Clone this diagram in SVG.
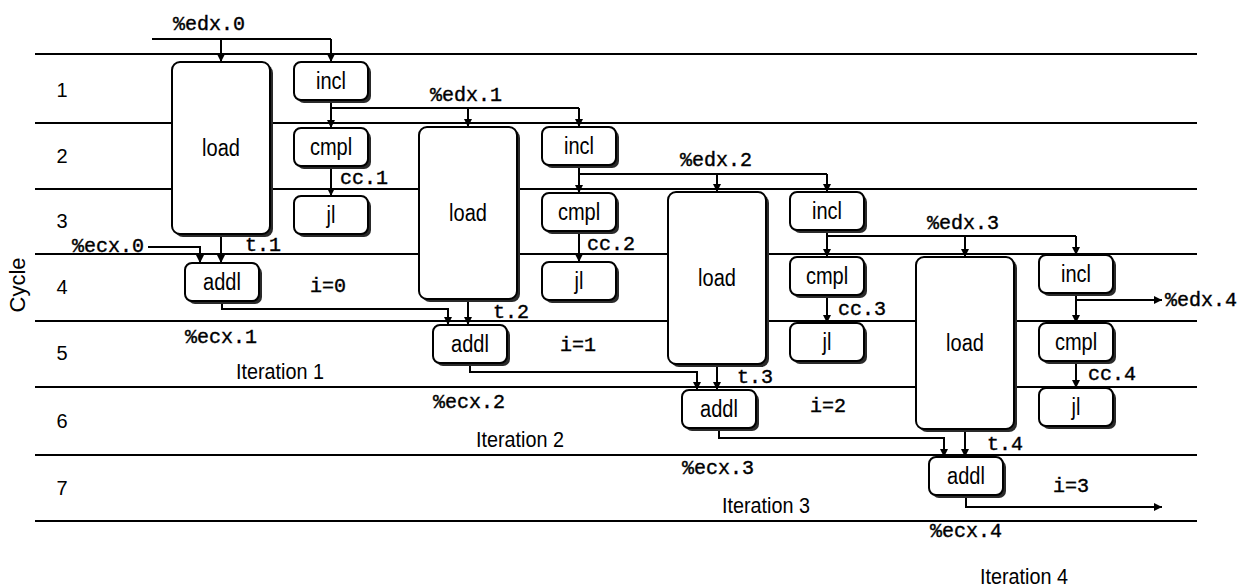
<svg xmlns="http://www.w3.org/2000/svg" width="1243" height="587" viewBox="0 0 1243 587">
<style>
.bg{fill:#fff}
.cyc{stroke:#000;stroke-width:2;fill:none}
.sh{fill:#2a2a2a}
.box{fill:#fff;stroke:#000;stroke-width:2}
.op{font-family:"Liberation Sans",Arial,sans-serif;font-size:23px;text-anchor:middle;fill:#000}
.num{font-family:"Liberation Sans",Arial,sans-serif;font-size:20px;text-anchor:middle;fill:#000}
.it{font-family:"Liberation Sans",Arial,sans-serif;font-size:22px;fill:#000}
.mono{font-family:"Liberation Mono","Courier New",monospace;font-size:20px;fill:#000;stroke:#000;stroke-width:0.4}
.edge{stroke:#000;stroke-width:2;fill:none}
.arr{stroke:#000;stroke-width:2;fill:none;marker-end:url(#ah)}
</style>
<defs>
<marker id="ah" markerUnits="userSpaceOnUse" markerWidth="9" markerHeight="8" refX="8" refY="4" orient="auto">
<path d="M0,0 L8,4 L0,8 z" fill="#000"/>
</marker>
</defs>
<rect class="bg" x="0" y="0" width="1243" height="587"/>

<g id="cycles">
<path class="cyc" d="M35,54 H1197 M35,123 H1197 M35,189 H1197 M35,254 H1197 M35,321 H1197 M35,387 H1197 M35,455 H1197 M35,521 H1197"/>
<text class="num" x="62" y="97">1</text>
<text class="num" x="62" y="163">2</text>
<text class="num" x="62" y="228">3</text>
<text class="num" x="62" y="294">4</text>
<text class="num" x="62" y="360">5</text>
<text class="num" x="62" y="428">6</text>
<text class="num" x="62" y="495">7</text>
<text class="it" transform="translate(25,285) rotate(-90)" text-anchor="middle">Cycle</text>
</g>

<g id="connectors">
<path class="edge" d="M152,39 H331"/>
<path class="arr" d="M331,39 V62"/>
<path class="arr" d="M221,39 V62"/>
<path class="arr" d="M331,100 V128"/>
<path class="edge" d="M331,108 H579"/>
<path class="arr" d="M579,108 V127"/>
<path class="arr" d="M468,108 V127"/>
<path class="arr" d="M331,166 V196"/>

<path class="arr" d="M579,165 V193"/>
<path class="edge" d="M579,174 H827"/>
<path class="arr" d="M827,174 V192"/>
<path class="arr" d="M717,174 V192"/>
<path class="arr" d="M579,231 V262"/>

<path class="arr" d="M827,230 V257"/>
<path class="edge" d="M827,236 H1076"/>
<path class="arr" d="M1076,236 V255"/>
<path class="arr" d="M965,236 V257"/>
<path class="arr" d="M827,295 V323"/>

<path class="arr" d="M1076,293 V323"/>
<path class="arr" d="M1076,300 H1162"/>
<path class="arr" d="M1076,361 V388"/>

<path class="arr" d="M148,247 H200 V263"/>
<path class="arr" d="M221,234 V263"/>
<path class="arr" d="M222,301 V309 H448 V325"/>
<path class="arr" d="M468,299 V325"/>
<path class="arr" d="M470,363 V372 H697 V390"/>
<path class="arr" d="M717,364 V390"/>
<path class="arr" d="M719,428 V438 H944 V457"/>
<path class="arr" d="M965,429 V457"/>
<path class="arr" d="M966,495 V507 H1162"/>

<text class="mono" x="173" y="30">%edx.0</text>
<text class="mono" x="430" y="101">%edx.1</text>
<text class="mono" x="680" y="166">%edx.2</text>
<text class="mono" x="927" y="229">%edx.3</text>
<text class="mono" x="1165" y="306">%edx.4</text>
<text class="mono" x="340" y="184">cc.1</text>
<text class="mono" x="587" y="250">cc.2</text>
<text class="mono" x="838" y="315">cc.3</text>
<text class="mono" x="1088" y="380">cc.4</text>
<text class="mono" x="72" y="252">%ecx.0</text>
<text class="mono" x="245" y="251">t.1</text>
<text class="mono" x="493" y="318">t.2</text>
<text class="mono" x="737" y="383">t.3</text>
<text class="mono" x="987" y="450">t.4</text>
<text class="mono" x="310" y="292">i=0</text>
<text class="mono" x="560" y="351">i=1</text>
<text class="mono" x="810" y="412">i=2</text>
<text class="mono" x="1053" y="492">i=3</text>
<text class="mono" x="185" y="343">%ecx.1</text>
<text class="mono" x="433" y="408">%ecx.2</text>
<text class="mono" x="682" y="474">%ecx.3</text>
<text class="mono" x="930" y="537">%ecx.4</text>
</g>

<g id="load1"><rect class="sh" x="175" y="65" width="98" height="172" rx="8"/><rect class="box" x="172" y="62" width="98" height="172" rx="8"/><text class="op" transform="translate(221,156) scale(0.87,1)">load</text></g>
<g id="incl1"><rect class="sh" x="297" y="65" width="74" height="38" rx="7"/><rect class="box" x="294" y="62" width="74" height="38" rx="7"/><text class="op" transform="translate(331,89) scale(0.87,1)">incl</text></g>
<g id="cmpl1"><rect class="sh" x="297" y="131" width="74" height="38" rx="7"/><rect class="box" x="294" y="128" width="74" height="38" rx="7"/><text class="op" transform="translate(331,155) scale(0.87,1)">cmpl</text></g>
<g id="jl1"><rect class="sh" x="297" y="199" width="74" height="38" rx="7"/><rect class="box" x="294" y="196" width="74" height="38" rx="7"/><text class="op" transform="translate(331,223) scale(0.87,1)">jl</text></g>
<g id="addl1"><rect class="sh" x="188" y="266" width="74" height="38" rx="7"/><rect class="box" x="185" y="263" width="74" height="38" rx="7"/><text class="op" transform="translate(222,290) scale(0.87,1)">addl</text></g>

<g id="load2"><rect class="sh" x="422" y="130" width="98" height="172" rx="8"/><rect class="box" x="419" y="127" width="98" height="172" rx="8"/><text class="op" transform="translate(468,221) scale(0.87,1)">load</text></g>
<g id="incl2"><rect class="sh" x="545" y="130" width="74" height="38" rx="7"/><rect class="box" x="542" y="127" width="74" height="38" rx="7"/><text class="op" transform="translate(579,154) scale(0.87,1)">incl</text></g>
<g id="cmpl2"><rect class="sh" x="545" y="196" width="74" height="38" rx="7"/><rect class="box" x="542" y="193" width="74" height="38" rx="7"/><text class="op" transform="translate(579,220) scale(0.87,1)">cmpl</text></g>
<g id="jl2"><rect class="sh" x="545" y="265" width="74" height="38" rx="7"/><rect class="box" x="542" y="262" width="74" height="38" rx="7"/><text class="op" transform="translate(579,289) scale(0.87,1)">jl</text></g>
<g id="addl2"><rect class="sh" x="436" y="328" width="74" height="38" rx="7"/><rect class="box" x="433" y="325" width="74" height="38" rx="7"/><text class="op" transform="translate(470,352) scale(0.87,1)">addl</text></g>

<g id="load3"><rect class="sh" x="671" y="195" width="98" height="172" rx="8"/><rect class="box" x="668" y="192" width="98" height="172" rx="8"/><text class="op" transform="translate(717,286) scale(0.87,1)">load</text></g>
<g id="incl3"><rect class="sh" x="793" y="195" width="74" height="38" rx="7"/><rect class="box" x="790" y="192" width="74" height="38" rx="7"/><text class="op" transform="translate(827,219) scale(0.87,1)">incl</text></g>
<g id="cmpl3"><rect class="sh" x="793" y="260" width="74" height="38" rx="7"/><rect class="box" x="790" y="257" width="74" height="38" rx="7"/><text class="op" transform="translate(827,284) scale(0.87,1)">cmpl</text></g>
<g id="jl3"><rect class="sh" x="793" y="326" width="74" height="38" rx="7"/><rect class="box" x="790" y="323" width="74" height="38" rx="7"/><text class="op" transform="translate(827,350) scale(0.87,1)">jl</text></g>
<g id="addl3"><rect class="sh" x="685" y="393" width="74" height="38" rx="7"/><rect class="box" x="682" y="390" width="74" height="38" rx="7"/><text class="op" transform="translate(719,417) scale(0.87,1)">addl</text></g>

<g id="load4"><rect class="sh" x="919" y="260" width="98" height="172" rx="8"/><rect class="box" x="916" y="257" width="98" height="172" rx="8"/><text class="op" transform="translate(965,351) scale(0.87,1)">load</text></g>
<g id="incl4"><rect class="sh" x="1042" y="258" width="74" height="38" rx="7"/><rect class="box" x="1039" y="255" width="74" height="38" rx="7"/><text class="op" transform="translate(1076,282) scale(0.87,1)">incl</text></g>
<g id="cmpl4"><rect class="sh" x="1042" y="326" width="74" height="38" rx="7"/><rect class="box" x="1039" y="323" width="74" height="38" rx="7"/><text class="op" transform="translate(1076,350) scale(0.87,1)">cmpl</text></g>
<g id="jl4"><rect class="sh" x="1042" y="391" width="74" height="38" rx="7"/><rect class="box" x="1039" y="388" width="74" height="38" rx="7"/><text class="op" transform="translate(1076,415) scale(0.87,1)">jl</text></g>
<g id="addl4"><rect class="sh" x="932" y="460" width="74" height="38" rx="7"/><rect class="box" x="929" y="457" width="74" height="38" rx="7"/><text class="op" transform="translate(966,484) scale(0.87,1)">addl</text></g>

<g id="iterations">
<text class="it" transform="translate(236,379) scale(0.9,1)">Iteration 1</text>
<text class="it" transform="translate(476,447) scale(0.9,1)">Iteration 2</text>
<text class="it" transform="translate(722,513) scale(0.9,1)">Iteration 3</text>
<text class="it" transform="translate(980,584) scale(0.9,1)">Iteration 4</text>
</g>
</svg>
